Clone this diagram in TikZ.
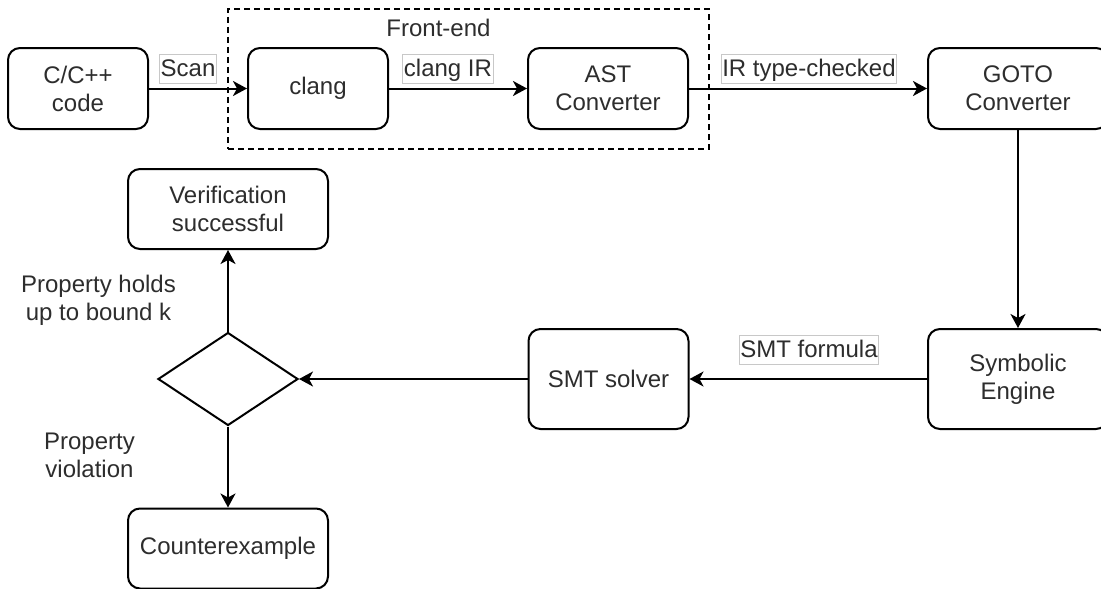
\documentclass[tikz,border=0pt]{standalone}
\usepackage{fontspec}
\setmainfont{Liberation Sans}
\usetikzlibrary{arrows.meta,shapes.geometric}
\definecolor{txt}{RGB}{45,45,45}
\definecolor{lblborder}{RGB}{200,200,200}
\begin{document}
\begin{tikzpicture}[x=1pt,y=-1pt,
  every node/.style={font=\fontsize{24}{28}\selectfont, text=txt},
  box/.style={draw, line width=2pt, rounded corners=12pt, align=center, inner sep=0pt},
  lbl/.style={draw=lblborder, line width=1pt, inner xsep=1pt, inner ysep=2pt, text height=20pt, text depth=5pt, fill=white},
  conn/.style={line width=2pt, -{Stealth[length=14pt,width=15pt,inset=4pt]}},
  free/.style={align=center, inner sep=0pt}]
\clip (0,0) rectangle (1101,589);
\fill[white] (0,0) rectangle (1101,589);
% front-end group
\node[draw, line width=2pt, dash pattern=on 6pt off 4pt, minimum width=481pt, minimum height=140pt, inner sep=0pt] (fe) at (468.5,79) {};
\node[anchor=base, inner sep=0pt] (felabel) at (438.5,36) {Front-end};
% boxes
\node[box, minimum width=140pt, minimum height=81pt] (code) at (78,88.5) {C/C++\\code};
\node[box, minimum width=140pt, minimum height=81pt] (clang) at (318,88.5) {clang};
\node[box, minimum width=160pt, minimum height=81pt] (ast) at (608,88.5) {AST\\Converter};
\node[box, minimum width=180pt, minimum height=81pt] (goto) at (1018,88.5) {GOTO\\Converter};
\node[box, minimum width=180pt, minimum height=100pt] (sym) at (1018,379) {Symbolic\\Engine};
\node[box, minimum width=160pt, minimum height=100pt] (smt) at (608.5,379) {SMT solver};
\node[draw, diamond, line width=2pt, minimum width=140pt, minimum height=93pt, inner sep=0pt] (dec) at (228,379) {};
\node[box, minimum width=200pt, minimum height=80pt] (verif) at (228,209) {Verification\\successful};
\node[box, minimum width=200pt, minimum height=80pt] (cex) at (228,548.5) {Counterexample};
% connectors
\draw[conn] (code.east) -- (clang.west);
\draw[conn] (clang.east) -- (ast.west);
\draw[conn] (ast.east) -- (goto.west);
\draw[conn] (goto.south) -- (sym.north);
\draw[conn] (sym.west) -- (smt.east);
\draw[conn] (smt.west) -- (dec.east);
\draw[conn] (dec.north) -- (verif.south);
\draw[conn] (dec.south) -- (cex.north);
% edge labels
\node[lbl] (lscan) at (188,68.5) {Scan};
\node[lbl] (lir) at (448,68.5) {clang IR};
\node[lbl] (ltc) at (809,68.5) {IR type-checked};
\node[lbl] (lsmt) at (809,349.5) {SMT formula};
\node[free] (lholds) at (98.5,300) {Property holds\\up to bound k};
\node[free] (lviol) at (89.5,455.5) {Property\\violation};
\end{tikzpicture}
\end{document}
